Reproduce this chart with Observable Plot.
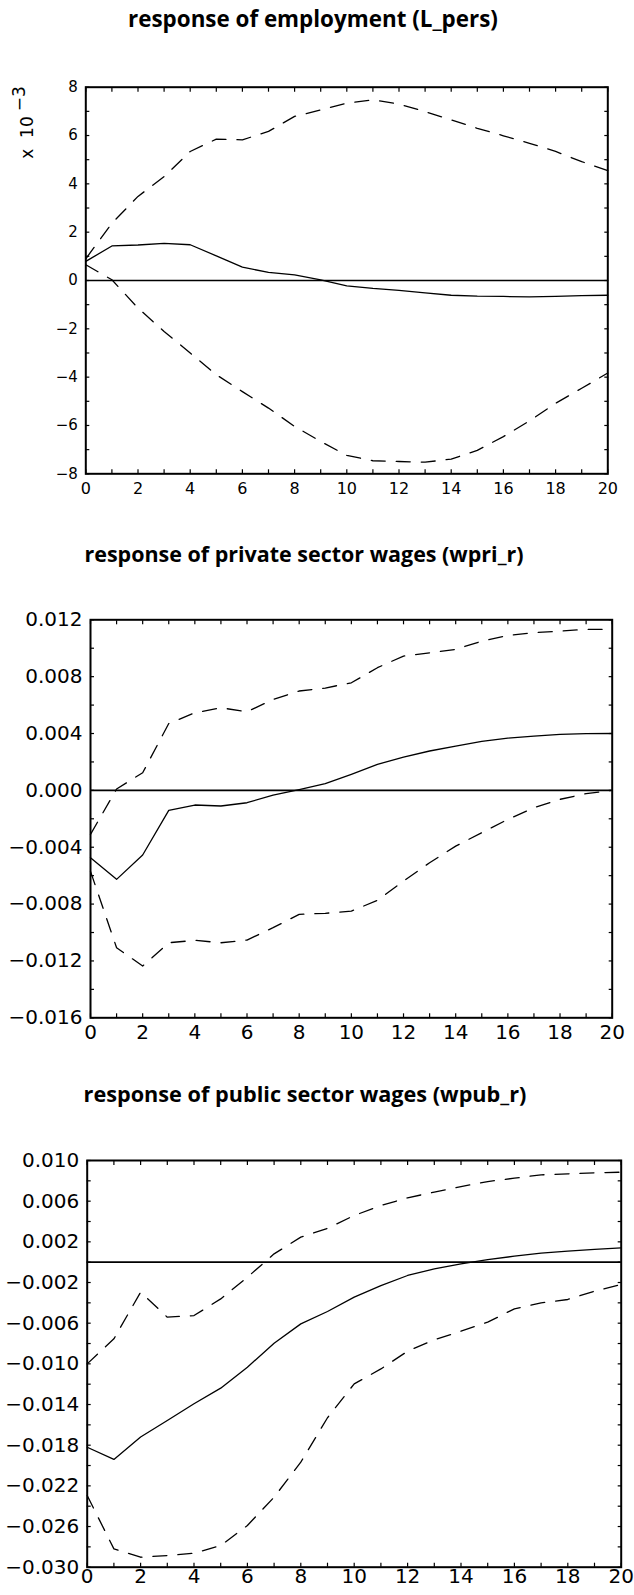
<!DOCTYPE html>
<html>
<head>
<meta charset="utf-8">
<script src="https://cdn.jsdelivr.net/npm/d3@7"></script>
<script src="https://cdn.jsdelivr.net/npm/@observablehq/plot@0.6"></script>
<style>
  html, body { margin: 0; padding: 0; background: #fff; }
  #root { position: relative; width: 634px; height: 1595px; background: #fff; overflow: hidden; }
  .title { position: absolute; font-family: "Open Sans", "Lato", sans-serif; font-weight: 700; font-size: 20px; color: #000; white-space: nowrap; line-height: 1; }
  .unit { position: absolute; font-family: "DejaVu Sans ExtraLight", "DejaVu Sans", sans-serif; font-size: 17px; color: #000; transform: rotate(-90deg); transform-origin: center center; white-space: pre; line-height: 1; }
  .unit .sup { font-size: 1em; position: relative; top: -0.45em; margin-left: 5px; }
</style>
</head>
<body>
<div id="root"></div>
<script>
// ---------- data ----------
const periods = [0,1,2,3,4,5,6,7,8,9,10,11,12,13,14,15,16,17,18,19,20];

const titles = [
  "response of employment (L_pers)",
  "response of private sector wages (wpri_r)",
  "response of public sector wages (wpub_r)"
];

// Panel 1: employment (L_pers), values in units of 10^-3
const empIrf   = [0.79,1.43,1.47,1.54,1.48,1.02,0.55,0.34,0.23,0.03,-0.22,-0.33,-0.41,-0.51,-0.61,-0.65,-0.66,-0.68,-0.66,-0.63,-0.61];
const empUpper = [0.90,2.37,3.48,4.30,5.34,5.85,5.82,6.17,6.79,7.06,7.34,7.48,7.30,6.99,6.65,6.30,5.99,5.68,5.34,4.92,4.55];
const empLower = [0.65,0.03,-1.14,-2.11,-3.00,-3.90,-4.60,-5.28,-6.04,-6.66,-7.24,-7.46,-7.49,-7.52,-7.39,-7.03,-6.46,-5.81,-5.08,-4.46,-3.83];

// Panel 2: private sector wages (wpri_r)
const wpriIrf   = [-0.00474,-0.00626,-0.00455,-0.00141,-0.00103,-0.00110,-0.00087,-0.00033,0.00005,0.00047,0.00113,0.00183,0.00234,0.00277,0.00312,0.00345,0.00368,0.00382,0.00394,0.00399,0.00400];
const wpriUpper = [-0.00310,0.00010,0.00124,0.00470,0.00546,0.00581,0.00553,0.00640,0.00699,0.00720,0.00757,0.00863,0.00945,0.00968,0.00992,0.01050,0.01090,0.01110,0.01120,0.01133,0.01133];
const wpriLower = [-0.00570,-0.01107,-0.01236,-0.01072,-0.01055,-0.01072,-0.01053,-0.00966,-0.00872,-0.00865,-0.00849,-0.00774,-0.00638,-0.00509,-0.00392,-0.00298,-0.00204,-0.00122,-0.00063,-0.00023,0.00000];

// Panel 3: public sector wages (wpub_r)
const wpubIrf   = [-0.01820,-0.01940,-0.01720,-0.01557,-0.01393,-0.01239,-0.01033,-0.00797,-0.00607,-0.00485,-0.00344,-0.00230,-0.00131,-0.00066,-0.00016,0.00026,0.00059,0.00089,0.00108,0.00125,0.00141];
const wpubUpper = [-0.01000,-0.00754,-0.00295,-0.00541,-0.00525,-0.00361,-0.00148,0.00082,0.00246,0.00333,0.00459,0.00557,0.00633,0.00689,0.00744,0.00793,0.00826,0.00859,0.00869,0.00879,0.00885];
const wpubLower = [-0.02295,-0.02820,-0.02902,-0.02885,-0.02862,-0.02787,-0.02590,-0.02311,-0.01967,-0.01530,-0.01197,-0.01050,-0.00875,-0.00764,-0.00679,-0.00590,-0.00459,-0.00400,-0.00367,-0.00285,-0.00220];

// tick values
const xMinorTicks = [0,1,2,3,4,5,6,7,8,9,10,11,12,13,14,15,16,17,18,19,20];
const xLabelTicks = [0,2,4,6,8,10,12,14,16,18,20];

const empYLabels = [-8,-6,-4,-2,0,2,4,6,8];
const empYMinor  = [-8,-7,-6,-5,-4,-3,-2,-1,0,1,2,3,4,5,6,7,8];

const wpriYLabels = [-0.016,-0.012,-0.008,-0.004,0.000,0.004,0.008,0.012];
const wpriYMinor  = [-0.016,-0.014,-0.012,-0.010,-0.008,-0.006,-0.004,-0.002,0.000,0.002,0.004,0.006,0.008,0.010,0.012];

const wpubYLabels = [-0.030,-0.026,-0.022,-0.018,-0.014,-0.010,-0.006,-0.002,0.002,0.006,0.010];
const wpubYMinor  = [-0.030,-0.028,-0.026,-0.024,-0.022,-0.020,-0.018,-0.016,-0.014,-0.012,-0.010,-0.008,-0.006,-0.004,-0.002,0.000,0.002,0.004,0.006,0.008,0.010];

const unitBase = "x  10";
const unitExp = "\u22123";

// ---------- drawing ----------
const root = document.getElementById("root");
const tickFont = "'DejaVu Sans ExtraLight', 'DejaVu Sans', sans-serif";
const T = 4; // inward tick length

function panel(cfg) {
  const rows = periods.map((t, i) => ({t, irf: cfg.irf[i], upper: cfg.upper[i], lower: cfg.lower[i]}));
  const dash = "14,11";
  const tickStyle = {stroke: "#000", strokeWidth: 1.2};
  const chart = Plot.plot({
    width: 634,
    height: cfg.height,
    marginTop: cfg.mt, marginBottom: cfg.mb, marginLeft: cfg.ml, marginRight: cfg.mr,
    x: {domain: [0, 20], label: null},
    y: {domain: cfg.yDomain, label: null},
    style: {fontFamily: tickFont, fontSize: cfg.fontSize + "px", color: "#000", background: "transparent", overflow: "visible"},
    marks: [
      Plot.ruleY([0], {stroke: "#000", strokeWidth: 1.7}),
      Plot.lineY(rows, {x: "t", y: "irf", stroke: "#000", strokeWidth: 1.3}),
      Plot.lineY(rows, {x: "t", y: "upper", stroke: "#000", strokeWidth: 1.3, strokeDasharray: dash}),
      Plot.lineY(rows, {x: "t", y: "lower", stroke: "#000", strokeWidth: 1.3, strokeDasharray: dash}),
      Plot.axisX(xLabelTicks, {anchor: "bottom", tickSize: 0, tickPadding: cfg.xPad, label: null, tickFormat: d3.format("d"), fontSize: cfg.xFontSize}),
      Plot.axisY(cfg.yLabels, {anchor: "left", tickSize: 0, tickPadding: 8, label: null, tickFormat: cfg.fmt, fontSize: cfg.fontSize}),
      Plot.frame({stroke: "#000", strokeWidth: 2}),
      // inward ticks on all four sides
      Plot.axisX(xMinorTicks, {anchor: "bottom", tickSize: T, dy: -T, text: null, ...tickStyle}),
      Plot.axisX(xMinorTicks, {anchor: "top", tickSize: T, dy: T, text: null, ...tickStyle}),
      Plot.axisY(cfg.yMinor, {anchor: "left", tickSize: T, dx: T, text: null, ...tickStyle}),
      Plot.axisY(cfg.yMinor, {anchor: "right", tickSize: T, dx: -T, text: null, ...tickStyle})
    ]
  });
  chart.style.position = "absolute";
  chart.style.left = "0px";
  chart.style.top = cfg.top + "px";
  root.appendChild(chart);
}

panel({irf: empIrf, upper: empUpper, lower: empLower, yDomain: [-8, 8], yLabels: empYLabels, yMinor: empYMinor,
  fmt: d3.format("d"), fontSize: 15, xFontSize: 16, xPad: 9,
  top: 60, height: 450, mt: 26.7, mb: 36.7, ml: 85.3, mr: 26.7});

panel({irf: wpriIrf, upper: wpriUpper, lower: wpriLower, yDomain: [-0.016, 0.012], yLabels: wpriYLabels, yMinor: wpriYMinor,
  fmt: d3.format(".3f"), fontSize: 20, xFontSize: 20, xPad: 7,
  top: 590, height: 460, mt: 29.3, mb: 32.7, ml: 90, mr: 22.3});

panel({irf: wpubIrf, upper: wpubUpper, lower: wpubLower, yDomain: [-0.030, 0.010], yLabels: wpubYLabels, yMinor: wpubYMinor,
  fmt: d3.format(".3f"), fontSize: 20, xFontSize: 20, xPad: 2,
  top: 1130, height: 465, mt: 30, mb: 28.3, ml: 86.7, mr: 13.3});

// titles: target widths and centres
const titleWidths = [370, 439, 443];
const titleCenters = [313, 304, 305];
const titleBaselines = [32, 566, 1106];
titles.forEach((t, i) => {
  const d = document.createElement("div");
  d.className = "title";
  d.textContent = t;
  root.appendChild(d);
  const w0 = d.getBoundingClientRect().width;
  const fs = 20 * titleWidths[i] / w0;
  d.style.fontSize = fs.toFixed(2) + "px";
  const w = d.getBoundingClientRect().width;
  d.style.left = (titleCenters[i] - w / 2) + "px";
  d.style.top = (titleBaselines[i] - fs * 1.07) + "px";
});

// unit label for panel 1
const u = document.createElement("div");
u.className = "unit";
u.appendChild(document.createTextNode(unitBase));
const s = document.createElement("span");
s.className = "sup";
s.textContent = unitExp;
u.appendChild(s);
root.appendChild(u);
u.style.left = (27 - u.offsetWidth / 2) + "px";
u.style.top = (122 - u.offsetHeight / 2) + "px";
</script>
</body>
</html>
